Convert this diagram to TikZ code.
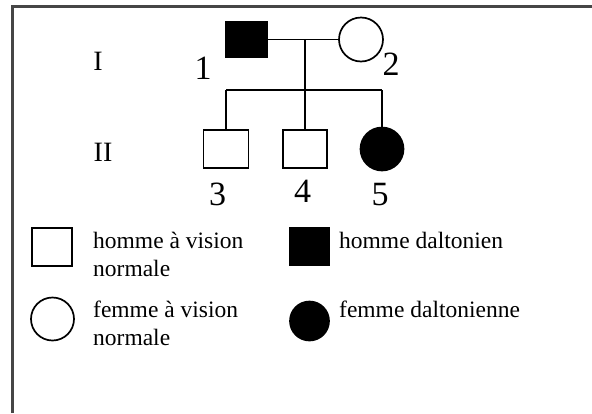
\documentclass[tikz,border=0pt]{standalone}
\usepackage{fontspec}
\setmainfont{Liberation Serif}
\begin{document}
\begin{tikzpicture}[x=1pt,y=-1pt,
  lw/.style={line width=1.7pt},
  malebox/.style={draw, lw, rectangle, inner sep=0pt, minimum width=#1},
  femcirc/.style={draw, lw, circle, inner sep=0pt, minimum size=#1},
  sick/.style={fill=black},
  numlab/.style={anchor=base, inner sep=0pt, font=\fontsize{34}{34}\selectfont},
  genlab/.style={anchor=base, inner sep=0pt, font=\fontsize{28}{28}\selectfont},
  legtext/.style={anchor=base west, inner sep=0pt, align=left, font=\fontsize{23.5}{28}\selectfont},
  conn/.style={lw}]
\useasboundingbox (0,0) rectangle (592,413);
\fill[white] (0,0) rectangle (592,413);
% frame (left and top only)
\draw[line width=2.5pt, color={rgb,255:red,70;green,70;blue,70}] (12.5,413) -- (12.5,6.5) -- (592,6.5);

% generation labels
\node[genlab] (gI) at (98,70.5) {I};
\node[genlab] (gII) at (103,161.5) {II};

% generation I
\node[malebox=41pt, minimum height=35pt, sick] (p1) at (246.7,39.5) {};
\node[femcirc=44pt] (p2) at (361,39.5) {};
\node[numlab] (l1) at (203,79) {1};
\node[numlab] (l2) at (391,75) {2};

% generation II
\node[malebox=45pt, minimum height=38pt] (p3) at (226,149) {};
\node[malebox=44pt, minimum height=38pt] (p4) at (305,149) {};
\node[femcirc=43pt, sick] (p5) at (382,149) {};
\node[numlab] (l3) at (217.5,205) {3};
\node[numlab] (l4) at (302.5,202) {4};
\node[numlab] (l5) at (380,205) {5};

% connectors
\coordinate (m) at (305,39.5);
\coordinate (s) at (305,90);
\coordinate (sl) at (226,90);
\coordinate (sr) at (382,90);
\draw[conn] (p1.east) -- (p2.west);
\draw[conn] (m) -- (s);
\draw[conn] (sl) -- (sr);
\draw[conn] (sl) -- (p3.north);
\draw[conn] (s) -- (p4.north);
\draw[conn] (sr) -- (p5.north);

% legend
\node[malebox=40pt, minimum height=38pt] (k1) at (52,247) {};
\node[legtext] (t1) at (93,276.5) {homme à vision\\normale};
\node[malebox=39pt, minimum height=37pt, sick] (k2) at (309.5,246.5) {};
\node[legtext] (t2) at (339,248.5) {homme daltonien};
\node[femcirc=43pt] (k3) at (52.5,319) {};
\node[legtext] (t3) at (93,345) {femme à vision\\normale};
\node[femcirc=39pt, sick] (k4) at (309.5,321) {};
\node[legtext] (t4) at (339,317) {femme daltonienne};
\end{tikzpicture}
\end{document}
